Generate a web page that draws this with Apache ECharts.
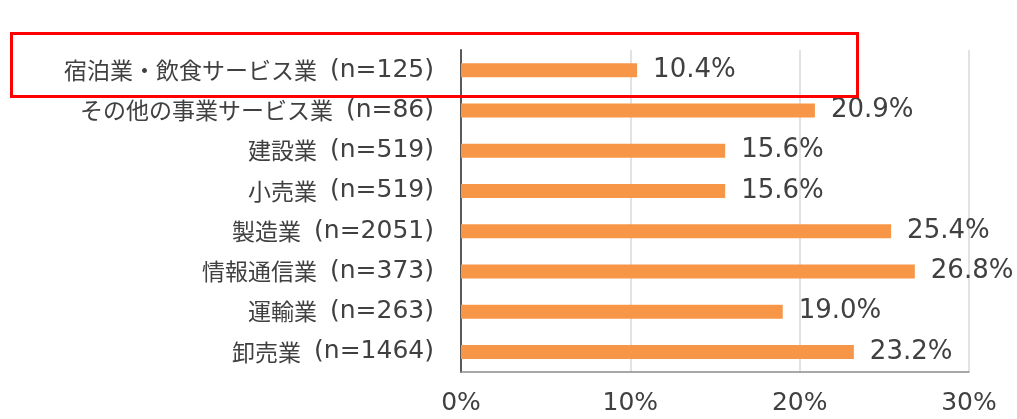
<!DOCTYPE html>
<html>
<head>
<meta charset="utf-8">
<script src="https://cdn.jsdelivr.net/npm/echarts@6/dist/echarts.min.js"></script>
<style>
  html, body { margin: 0; padding: 0; background: #fff; }
  #chart { width: 1017px; height: 419px; }
</style>
</head>
<body>
<div id="chart"></div>
<script>
// Industries, top to bottom
const industries = [
  '宿泊業・飲食サービス業',
  'その他の事業サービス業',
  '建設業',
  '小売業',
  '製造業',
  '情報通信業',
  '運輸業',
  '卸売業'
];
// Number of respondents per industry
const respondents = [125, 86, 519, 519, 2051, 373, 263, 1464];
// Share of respondents, %
const shares = [10.4, 20.9, 15.6, 15.6, 25.4, 26.8, 19.0, 23.2];
const xTicks = [0, 10, 20, 30];

const categories = industries.map((name, i) => name + '|(n=' + respondents[i] + ')');

const latin = '"DejaVu Sans", "Noto Sans CJK JP", sans-serif';
const cjk = '"Noto Sans CJK JP", sans-serif';
const textColor = '#404040';
const chart = echarts.init(document.getElementById('chart'));

chart.setOption({
  animation: false,
  backgroundColor: '#fff',
  grid: { left: 461, right: 48, top: 50, bottom: 47, containLabel: false },
  xAxis: {
    type: 'value',
    min: xTicks[0],
    max: xTicks[xTicks.length - 1],
    interval: 10,
    axisLine: { show: true, lineStyle: { color: '#8c8c8c', width: 1.5 } },
    axisTick: { show: false },
    splitLine: { show: true, lineStyle: { color: '#d9d9d9', width: 1.5 } },
    axisLabel: {
      formatter: v => v + '%',
      color: textColor,
      fontSize: 25,
      fontFamily: latin,
      margin: 19
    }
  },
  yAxis: {
    type: 'category',
    data: categories,
    inverse: true,
    axisLine: { show: true, lineStyle: { color: '#595959', width: 2 } },
    axisTick: { show: false },
    axisLabel: {
      margin: 27,
      formatter: v => {
        const [name, n] = v.split('|');
        return '{name|' + name + '}{n|' + n + '}';
      },
      rich: {
        name: { color: textColor, fontSize: 23, fontFamily: cjk },
        n: { color: textColor, fontSize: 25, fontFamily: latin, padding: [0, 0, 0, 13] }
      }
    }
  },
  series: [{
    type: 'bar',
    data: shares,
    barWidth: 14,
    itemStyle: { color: '#F79646' },
    label: {
      show: true,
      position: 'right',
      distance: 16,
      formatter: p => p.value.toFixed(1) + '%',
      color: textColor,
      fontSize: 26,
      fontFamily: latin
    }
  }],
  graphic: [{
    type: 'rect',
    z: 100,
    shape: { x: 11.5, y: 33.5, width: 846, height: 63 },
    style: { fill: 'none', stroke: '#ff0000', lineWidth: 3 }
  }]
});
</script>
</body>
</html>
